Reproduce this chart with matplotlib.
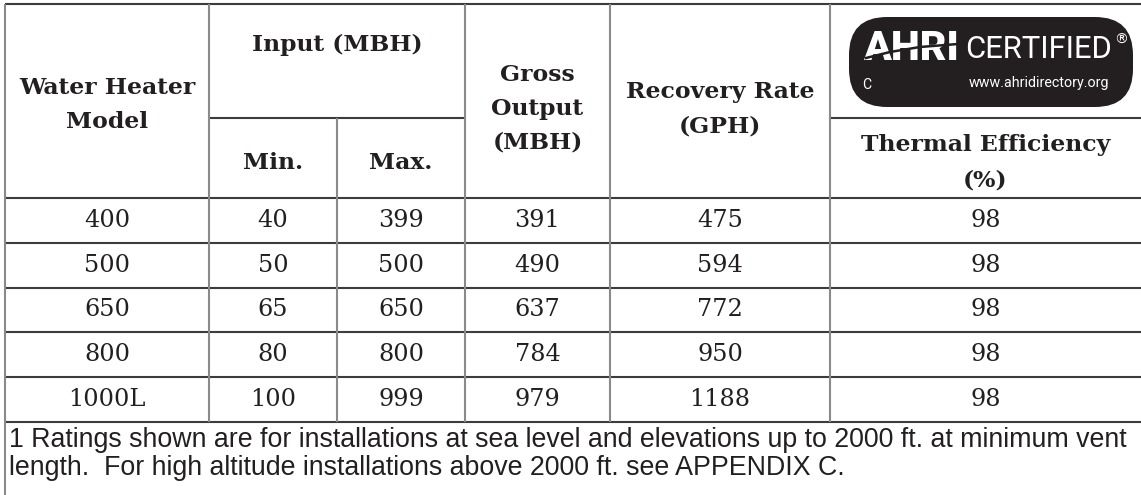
import matplotlib.pyplot as plt
from matplotlib.patches import FancyBboxPatch

# table data
models = ['400', '500', '650', '800', '1000L']
input_min = [40, 50, 65, 80, 100]
input_max = [399, 500, 650, 800, 999]
gross_output = [391, 490, 637, 784, 979]
recovery_gph = [475, 594, 772, 950, 1188]
thermal_eff = [98, 98, 98, 98, 98]

footnote = ['1 Ratings shown are for installations at sea level and elevations up to 2000 ft. at minimum vent',
            'length.  For high altitude installations above 2000 ft. see APPENDIX C.']

W, H = 1141, 495
DARK = '#3c3c3c'
GRAY = '#8a8a8a'
INK = '#231f20'


def pt(px):
    # pixels -> points at dpi 100
    return px * 72 / 100


fig = plt.figure(figsize=(W / 100, H / 100), dpi=100)
ax = fig.add_axes([0, 0, 1, 1])
ax.set_xlim(0, W)
ax.set_ylim(H, 0)
ax.axis('off')

cols = [5, 209, 337, 465, 610, 830, W]
top, mid, head_bot = 4, 118, 198
row_h = 44.8
foot_top = head_bot + row_h * len(models)


def hline(y, x0, x1):
    ax.plot([x0, x1], [y, y], color=DARK, lw=1.5, solid_capstyle='butt')


def vline(x, y0, y1):
    ax.plot([x, x], [y0, y1], color=GRAY, lw=1.5, solid_capstyle='butt')


# grid
hline(top, cols[0], W)
hline(mid, cols[1], cols[3])
hline(mid, cols[5], W)
for i in range(len(models) + 1):
    hline(head_bot + i * row_h, cols[0], W)
vline(cols[0], top, H)
for c in (cols[1], cols[3], cols[4], cols[5]):
    vline(c, top, foot_top)
vline(cols[2], mid, foot_top)

# header text
hdr = dict(family='DejaVu Serif', weight='bold', fontsize=pt(23.5), color=INK,
           ha='center', va='center')


def cx(i):
    return (cols[i] + cols[i + 1]) / 2


def header(x, ys, lines):
    for y, s in zip(ys, lines):
        ax.text(x, y, s, **hdr)


header(cx(0), [88, 122], ['Water Heater', 'Model'])
header((cols[1] + cols[3]) / 2, [45], ['Input (MBH)'])
header(cx(1), [163], ['Min.'])
header(cx(2), [163], ['Max.'])
header(cx(3), [75, 109, 143], ['Gross', 'Output', '(MBH)'])
header(cx(4), [92, 127], ['Recovery Rate', '(GPH)'])
header(cx(5), [145, 181], ['Thermal Efficiency', '(%)'])

# body rows
body = dict(family='DejaVu Serif', fontsize=pt(24), color=INK, ha='center', va='center')
columns = [models, input_min, input_max, gross_output, recovery_gph, thermal_eff]
for r in range(len(models)):
    y = head_bot + (r + 0.5) * row_h
    for c, vals in enumerate(columns):
        ax.text(cx(c), y, str(vals[r]), **body)

# footnote
for k, line in enumerate(footnote):
    ax.text(9, 440 + k * 28, line, family='Liberation Sans', fontsize=pt(26.7),
            color=INK, ha='left', va='center')

# AHRI certified logo
ax.add_patch(FancyBboxPatch((849, 17), 284, 90, boxstyle='round,pad=0,rounding_size=38',
                            fc=INK, ec='none'))
ax.text(911, 48, 'AHRI', family='Roboto', weight='black', fontsize=pt(41), color='white',
        ha='center', va='center')
# swoosh through the letters
ax.plot([866, 890, 920, 958], [58, 52, 47, 44], color=INK, lw=1.8, zorder=5)
ax.text(1039, 49, 'CERTIFIED', family='Roboto', fontsize=pt(31), color='white',
        ha='center', va='center')
ax.text(1121, 40, '®', family='DejaVu Sans', fontsize=pt(14), color='white',
        ha='center', va='center')
ax.text(862, 85, 'C', family='Roboto', fontsize=pt(14), color='white', ha='left', va='center')
ax.text(1039, 83, 'www.ahridirectory.org', family='Roboto', fontsize=pt(14.3), color='white',
        ha='center', va='center')

fig.savefig('out.png', dpi=100)
